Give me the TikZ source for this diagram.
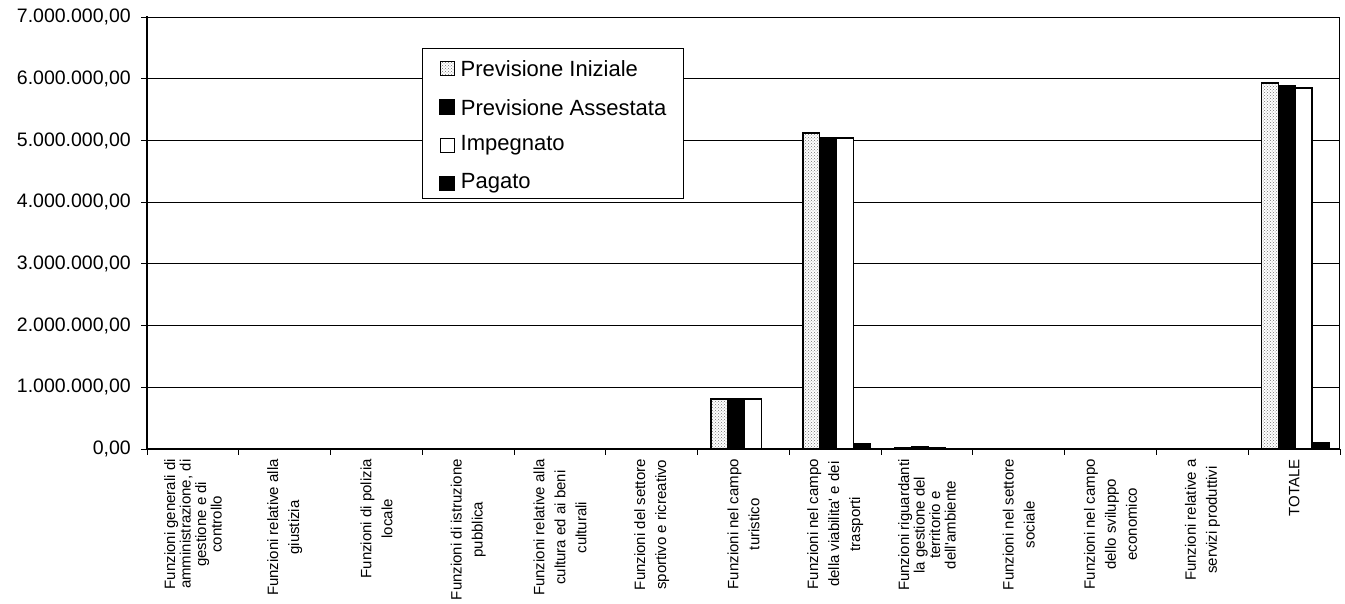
\documentclass[tikz,border=0pt]{standalone}
\usepackage{fontspec}
\setmainfont{Liberation Sans}
\usepackage{tikz}
\usetikzlibrary{positioning, patterns}

\tikzset{
  gridline/.style={line width=0.9pt},
  axisline/.style={line width=1.8pt, line cap=rect},
  tickmark/.style={line width=1pt},
  iniz/.style={draw, line width=1.4pt, preaction={fill=white},
               pattern=crosshatch dots, pattern color=black!55},
  asse/.style={draw, line width=1.4pt, fill=black},
  impe/.style={draw, line width=1.4pt, fill=white},
  paga/.style={draw, line width=1.4pt, fill=black},
  ylab/.style={anchor=east, inner sep=0pt, font=\fontsize{19.5}{22}\selectfont},
  catlab/.style={rotate=90, anchor=east, inner sep=0pt, align=center,
                 font=\fontsize{15}{21}\selectfont},
  catlabtight/.style={catlab, font=\fontsize{15}{15.5}\selectfont},
  swatch/.style={minimum width=14pt, minimum height=14pt, inner sep=0pt},
  legtext/.style={inner sep=0pt, font=\fontsize{22}{24}\selectfont}
}

% four bars of one category: index, iniziale, assestata, impegnato, pagato (millions)
\newcommand{\valbars}[5]{%
  \pgfmathsetmacro{\bx}{160.5+#1*91.77}%
  \draw[iniz] (\bx,449) rectangle ++(16.8,{-#2*61.71});
  \draw[asse] ({\bx+16.8},449) rectangle ++(16.8,{-#3*61.71});
  \draw[impe] ({\bx+33.6},449) rectangle ++(16.8,{-#4*61.71});
  \draw[paga] ({\bx+50.4},449) rectangle ++(16.8,{-#5*61.71});
}

\begin{document}
\begin{tikzpicture}[x=1pt, y=-1pt]
  \useasboundingbox (0,0) rectangle (1345,604);

  % grid and y labels
  \foreach \v in {1,...,6}
    \draw[gridline] (141,{449-\v*61.71}) -- (1339,{449-\v*61.71});
  \draw[gridline] (141,17) -- (1339,17) -- (1339,449);
  \foreach \v in {1,...,7}
    \node[ylab] (ylab\v) at (131,{449-\v*61.71}) {\v.000.000,00};
  \node[ylab] (ylab0) at (131,449) {0,00};

  % bars
  \valbars{6}{0.81}{0.81}{0.81}{0}
  \valbars{7}{5.12}{5.04}{5.04}{0.08}
  \valbars{8}{0.02}{0.035}{0.025}{0.012}
  \valbars{10}{0}{0.01}{0.01}{0}
  \valbars{12}{5.93}{5.88}{5.85}{0.10}

  % axes
  \draw[axisline] (147,17) -- (147,449) -- (1339,449);
  \draw[tickmark] (141,449) -- (147,449);
  \foreach \i in {0,...,13}
    \draw[tickmark] ({147+\i*91.77},449) -- ++(0,6);

  % category labels
  \node[catlabtight] (cat0) at (192.9,459) {Funzioni generali di\\amministrazione, di\\gestione e di\\controllo};
  \node[catlab] (cat1) at (284.7,459) {Funzioni relative alla\\giustizia};
  \node[catlab] (cat2) at (376.4,459) {Funzioni di polizia\\locale};
  \node[catlab] (cat3) at (468.2,459) {Funzioni di istruzione\\pubblica};
  \node[catlab] (cat4) at (560.0,459) {Funzioni relative alla\\cultura ed ai beni\\culturali};
  \node[catlab] (cat5) at (651.7,459) {Funzioni del settore\\sportivo e ricreativo};
  \node[catlab] (cat6) at (743.5,459) {Funzioni nel campo\\turistico};
  \node[catlab] (cat7) at (835.3,459) {Funzioni nel campo\\della viabilita\textquotesingle{} e dei\\trasporti};
  \node[catlabtight] (cat8) at (927.0,459) {Funzioni riguardanti\\la gestione del\\territorio e\\dell\textquotesingle ambiente};
  \node[catlab] (cat9) at (1018.8,459) {Funzioni nel settore\\sociale};
  \node[catlab] (cat10) at (1110.6,459) {Funzioni nel campo\\dello sviluppo\\economico};
  \node[catlab] (cat11) at (1202.4,459) {Funzioni relative a\\servizi produttivi};
  \node[catlab] (cat12) at (1294.1,459) {TOTALE};

  % legend
  \node[draw, fill=white, line width=1pt, minimum width=261pt, minimum height=150pt,
        anchor=north west, inner sep=0pt] (legbox) at (422,48) {};
  \node[swatch, iniz, line width=1pt] (swini) at (447,69) {};
  \node[swatch, asse, below=23pt of swini] (swass) {};
  \node[swatch, impe, line width=1pt, below=23pt of swass] (swimp) {};
  \node[swatch, paga, below=23pt of swimp] (swpag) {};
  \node[legtext, right=6pt of swini] (legini) {Previsione Iniziale};
  \node[legtext, right=6pt of swass] (legass) {Previsione Assestata};
  \node[legtext, right=6pt of swimp] (legimp) {Impegnato};
  \node[legtext, right=6pt of swpag] (legpag) {Pagato};
\end{tikzpicture}
\end{document}
